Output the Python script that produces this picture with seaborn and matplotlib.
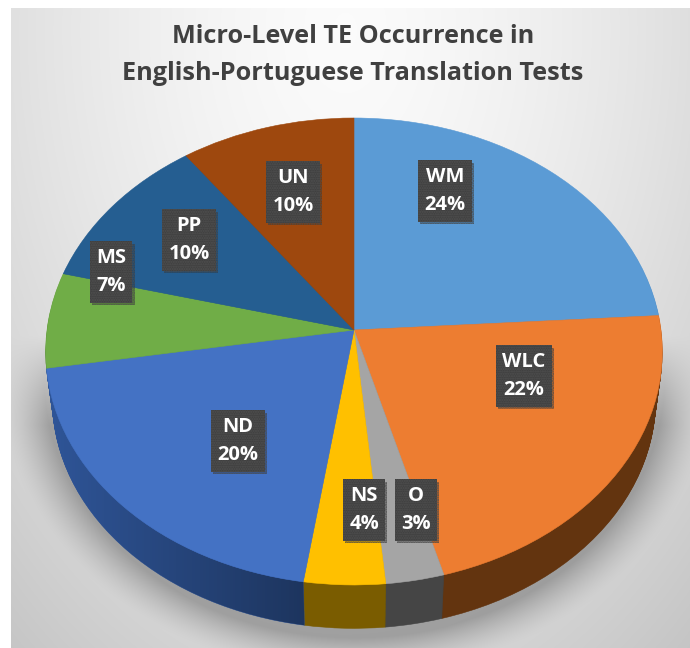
import numpy as np
import matplotlib
matplotlib.use('Agg')
import matplotlib.pyplot as plt
import matplotlib.patheffects as pe
from matplotlib.path import Path
from matplotlib.patches import PathPatch
from matplotlib.transforms import Transform
import seaborn as sns

# Slices clockwise from 12 o'clock, angles
categories = ['WM', 'WLC', 'O', 'NS', 'ND', 'MS', 'PP', 'UN']
shares = [24.0, 21.7, 2.8, 3.9, 20.0, 6.6, 11.0, 10.0]
# Percentages as printed on the chart
printed_pct = [24, 22, 3, 4, 20, 7, 10, 10]

top_colors = ['#5b9bd5', '#ed7d31', '#a5a5a5', '#ffc000', '#4472c4', '#70ad47', '#255e91', '#9e480e']
side_colors = ['#2f5f8f', '#63340f', '#454545', '#7a5c00', '#2f5598', '#3f6a28', '#173a5a', '#5a2a08']

# Label centres in pixels
label_xy = [(445, 191), (524, 376), (416, 510), (364, 510), (238, 441), (111, 272), (189, 240), (293, 192)]

title = 'Micro-Level TE Occurrence in\nEnglish-Portuguese Translation Tests'

W, H = 690, 648
CX, CY = 354, 330
RX, RY = 307, 231.5
PERSP = 0.092
DEPTH = 49
SHRINK = 0.022


class PieTilt(Transform):
    # maps the unit pie to pixel coords with a bit of perspective
    input_dims = 2
    output_dims = 2

    def __init__(self, drop=0):
        super().__init__()
        self.drop = drop

    def transform_non_affine(self, xy):
        xy = np.asarray(xy)
        f = 1 + PERSP * xy[:, 1]
        scale = 1 - SHRINK * self.drop / DEPTH
        return np.column_stack([CX + scale * RX * xy[:, 0] / f,
                                CY + self.drop - scale * RY * xy[:, 1] / f])


def draw_pie(ax, colors, drop):
    wedges, _ = ax.pie(shares, colors=colors, startangle=90, counterclock=False)
    for w, c in zip(wedges, colors):
        w.set_transform(PieTilt(drop) + ax.transData)
        w.set_edgecolor(c)
        w.set_linewidth(0.4)


sns.set_theme(style='white')
plt.rcParams['font.family'] = ['Open Sans', 'DejaVu Sans']

fig = plt.figure(figsize=(W / 100, H / 100), dpi=100)
ax = fig.add_axes([0, 0, 1, 1])

# grey backdrop: light at top centre, darker towards the corners
yy, xx = np.mgrid[0:H, 0:W]
rho = np.sqrt(((xx - 345) / 420) ** 2 + ((yy - 30) / 640) ** 2)
bg = 0.985 - 0.15 * rho ** 1.5

# soft shadow below the pie
s = np.sqrt(((xx - CX) / 330) ** 2 + ((yy - 378) / 276) ** 2)
shade = np.clip((1.08 - s) / 0.14, 0, 1) ** 1.5 * np.clip((yy - 335) / 90, 0, 1)
bg = bg - 0.22 * shade

img = np.dstack([bg, bg, bg, np.ones_like(bg)])
img[:8, :] = 1
img[:, :11] = 1
ax.imshow(img, extent=(0, W, H, 0), aspect='auto', zorder=0)

side_pal = sns.color_palette(side_colors)
top_pal = sns.color_palette(top_colors)
for d in range(DEPTH, 0, -1):
    draw_pie(ax, side_pal, d)

# the ND wall gets darker towards the front
ends = np.cumsum(shares) / 100 * 2 * np.pi
arc = np.linspace(ends[3], ends[4], 80)
unit = np.column_stack([np.sin(arc), np.cos(arc)])
outline = np.vstack([PieTilt(0).transform(unit), PieTilt(DEPTH).transform(unit)[::-1]])
wall = PathPatch(Path(outline), fc='none', ec='none', transform=ax.transData)
ax.add_patch(wall)
fade = np.zeros((1, 256, 4))
fade[..., 3] = np.linspace(0, 0.38, 256)
grad = ax.imshow(fade, extent=(45, 305, 640, 360), aspect='auto', zorder=1)
grad.set_clip_path(wall)

draw_pie(ax, top_pal, 0)
for w in ax.patches[-len(shares):]:
    w.set_zorder(2)

ax.set_aspect('auto')
ax.set_xlim(0, W)
ax.set_ylim(H, 0)
ax.axis('off')

for name, pct, (x, y) in zip(categories, printed_pct, label_xy):
    t = ax.text(x, y, f'{name}\n{pct}%', ha='center', va='center', color='white',
                fontsize=14.5, fontweight='bold', linespacing=1.55, zorder=5,
                bbox=dict(boxstyle='square,pad=0.32', fc='#404040', ec='#505050',
                          hatch='.......', lw=0))
    t.get_bbox_patch().set_path_effects([
        pe.SimplePatchShadow(offset=(1.5, -1.5), shadow_rgbFace='k', alpha=0.3), pe.Normal()])

ax.text(353, 55, title, ha='center', va='center', color='#404040', fontsize=18.2,
        fontweight='bold', linespacing=1.65, zorder=5)

fig.savefig('out.png', dpi=100)
